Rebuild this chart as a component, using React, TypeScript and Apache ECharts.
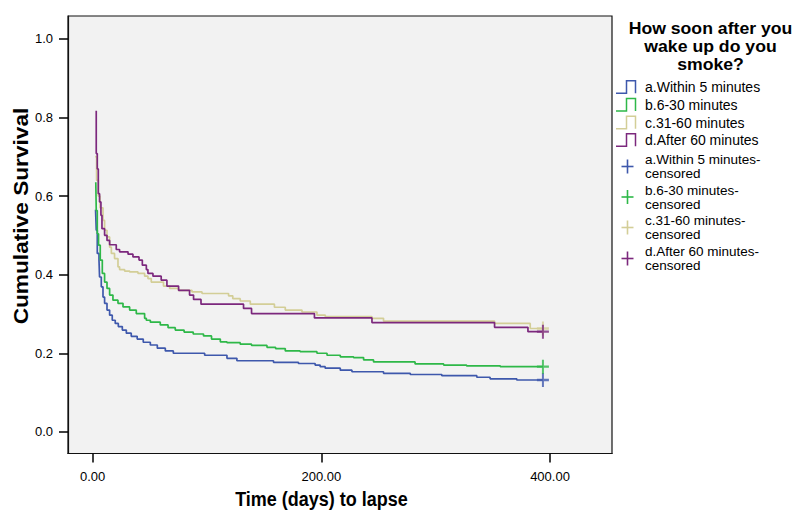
import React, { useEffect, useRef } from "react";
import * as echarts from "echarts";

// Kaplan-Meier step data: [days, cumulative survival]
const withinFive: [number, number][] = [
  [2.6, 0.565], [3.2, 0.513], [4.1, 0.454], [5.6, 0.437], [6.1, 0.394], [7.6, 0.369],
  [9.1, 0.343], [10.5, 0.327], [12.6, 0.31], [14.9, 0.297], [17.2, 0.284], [19.8, 0.276],
  [22.5, 0.268], [26, 0.259], [29.5, 0.251], [33.8, 0.243], [39, 0.236], [44.3, 0.228],
  [50.5, 0.221], [56.6, 0.213], [63.6, 0.206], [70.6, 0.2], [98, 0.195], [117.5, 0.187],
  [126.2, 0.181], [158.2, 0.177], [180, 0.174], [194.6, 0.17], [199, 0.166], [203.4, 0.162],
  [216.6, 0.157], [226.8, 0.153], [254.4, 0.149], [277.8, 0.146], [305.4, 0.143],
  [336, 0.139], [347.6, 0.135], [370.9, 0.132], [393.8, 0.132],
];
const sixToThirty: [number, number][] = [
  [2.8, 0.635], [3.2, 0.563], [4.1, 0.504], [5.2, 0.475], [6.7, 0.437], [8.5, 0.403],
  [10.5, 0.381], [12.6, 0.365], [14.9, 0.348], [17.8, 0.335], [22.2, 0.327], [26.6, 0.318],
  [32.4, 0.31], [38.2, 0.301], [45.5, 0.289], [47, 0.284], [50.5, 0.279], [59.2, 0.272],
  [66, 0.265], [72.3, 0.259], [80, 0.254], [88, 0.249], [97, 0.244], [104, 0.236],
  [111.7, 0.229], [117.5, 0.227], [129.1, 0.223], [139, 0.22], [152.5, 0.215], [160, 0.212],
  [168.5, 0.206], [181.5, 0.204], [196.2, 0.2], [205, 0.195], [216.6, 0.191], [228.2, 0.189],
  [237, 0.183], [245.7, 0.178], [282, 0.173], [307, 0.17], [327, 0.168], [356.5, 0.166],
  [393.8, 0.166],
];
const thirtyOneToSixty: [number, number][] = [
  [2.2, 0.7], [3.5, 0.64], [5, 0.6], [6.5, 0.57], [9.1, 0.538], [10.5, 0.513], [12.6, 0.496],
  [14.9, 0.47], [16.4, 0.454], [19.2, 0.441], [22.2, 0.42], [23.6, 0.413], [28, 0.409],
  [32.4, 0.407], [39.7, 0.403], [45.5, 0.396], [48.4, 0.39], [51.3, 0.381], [62, 0.371],
  [67.4, 0.365], [75.2, 0.36], [86.9, 0.356], [95.7, 0.352], [118.9, 0.346], [122.6, 0.339],
  [129.1, 0.333], [137.9, 0.325], [159, 0.317], [168.5, 0.31], [183.1, 0.305], [196.2, 0.297],
  [203.5, 0.293], [244.3, 0.289], [254.4, 0.282], [351.5, 0.276], [382.7, 0.263], [393.8, 0.263],
];
const afterSixty: [number, number][] = [
  [3.2, 0.817], [3.2, 0.708], [4.1, 0.669], [5, 0.606], [6.1, 0.585], [7.3, 0.551], [8.2, 0.517],
  [10.5, 0.5], [12.6, 0.487], [14.9, 0.476], [20.7, 0.464], [23.6, 0.458], [31, 0.452],
  [35.3, 0.445], [40.6, 0.437], [43.5, 0.424], [47, 0.413], [48.4, 0.403], [52.8, 0.396],
  [60, 0.386], [65, 0.371], [75.2, 0.36], [84.8, 0.348], [88.3, 0.337], [94.8, 0.325],
  [132, 0.314], [139, 0.301], [194, 0.29], [244.3, 0.278], [351.5, 0.266], [380.7, 0.255],
  [393.8, 0.255],
];

const censoredWithinFive: [number, number][] = [[393.8, 0.132]];
const censoredSixToThirty: [number, number][] = [[393.8, 0.166]];
const censoredThirtyOneToSixty: [number, number][] = [[393.8, 0.263]];
const censoredAfterSixty: [number, number][] = [[393.8, 0.255]];

const groupNames = ["a.Within 5 minutes", "b.6-30 minutes", "c.31-60 minutes", "d.After 60 minutes"];
const groupColors = ["#3E58AC", "#2EB848", "#D3CE97", "#7C287D"];
const xTicks = [0, 200, 400];
const yTicks = [0, 0.2, 0.4, 0.6, 0.8, 1.0];
const legendTitle = ["How soon after you", "wake up do you", "smoke?"];

const FONT = "Liberation Sans, Arial, sans-serif";
const PLUS = "path://M5,0 h2 v5 h5 v2 h-5 v5 h-2 v-5 h-5 v-2 h5 z";

export default function App() {
  const ref = useRef<HTMLDivElement>(null);
  useEffect(() => {
    if (!ref.current) return;
    const chart = echarts.init(ref.current, null, { renderer: "svg" });
    const curves = [withinFive, sixToThirty, thirtyOneToSixty, afterSixty];
    const censored = [censoredWithinFive, censoredSixToThirty, censoredThirtyOneToSixty, censoredAfterSixty];

    const series: any[] = [];
    curves.forEach((d, i) => {
      series.push({
        type: "line",
        name: groupNames[i],
        data: d,
        step: "end",
        symbol: "none",
        lineStyle: { color: groupColors[i], width: 1.7 },
        z: 2 + i,
      });
    });
    censored.forEach((d, i) => {
      series.push({
        type: "scatter",
        name: groupNames[i] + "-censored",
        data: d,
        symbol: PLUS,
        symbolSize: [12, 14],
        itemStyle: { color: groupColors[i] },
        z: 6 + i,
      });
    });

    const graphic: any[] = [];
    graphic.push({
      type: "text",
      x: 21,
      y: 216,
      rotation: Math.PI / 2,
      scaleX: 1.08,
      style: {
        text: "Cumulative Survival",
        font: `bold 21px ${FONT}`,
        fill: "#000",
        textAlign: "center",
        textVerticalAlign: "middle",
      },
    });
    graphic.push({
      type: "text",
      x: 321.5,
      y: 499,
      scaleY: 1.1,
      style: {
        text: "Time (days) to lapse",
        font: `bold 18px ${FONT}`,
        fill: "#000",
        textAlign: "center",
        textVerticalAlign: "middle",
      },
    });
    legendTitle.forEach((t, i) => {
      graphic.push({
        type: "text",
        x: 710.5,
        y: 29 + i * 18,
        scaleX: 1.07,
        style: {
          text: t,
          font: `bold 16.5px ${FONT}`,
          fill: "#000",
          textAlign: "center",
          textVerticalAlign: "middle",
        },
      });
    });
    const rowY = [87.3, 105, 122.7, 140.2];
    groupNames.forEach((n, i) => {
      const yc = rowY[i];
      graphic.push({
        type: "polyline",
        shape: {
          points: [
            [616, yc + 6],
            [626.5, yc + 6],
            [626.5, yc - 6.5],
            [635.5, yc - 6.5],
            [635.5, yc + 6],
          ],
        },
        style: { stroke: groupColors[i], lineWidth: 1.5, fill: null },
      });
      graphic.push({
        type: "text",
        x: 645,
        y: yc,
        style: { text: n, font: `14px ${FONT}`, fill: "#000", textVerticalAlign: "middle" },
      });
    });
    const cenTop = [159.5, 190, 220.5, 251.5];
    groupNames.forEach((n, i) => {
      const yt = cenTop[i];
      const yc = yt + 7;
      graphic.push({
        type: "line",
        shape: { x1: 621.5, y1: yc, x2: 633.5, y2: yc },
        style: { stroke: groupColors[i], lineWidth: 1.6 },
      });
      graphic.push({
        type: "line",
        shape: { x1: 627.5, y1: yc - 7, x2: 627.5, y2: yc + 7 },
        style: { stroke: groupColors[i], lineWidth: 1.6 },
      });
      graphic.push({
        type: "text",
        x: 645,
        y: yt,
        style: { text: n + "-", font: `13.5px ${FONT}`, fill: "#000", textVerticalAlign: "middle" },
      });
      graphic.push({
        type: "text",
        x: 645,
        y: yt + 14,
        style: { text: "censored", font: `13.5px ${FONT}`, fill: "#000", textVerticalAlign: "middle" },
      });
    });

    chart.setOption({
      animation: false,
      backgroundColor: "#ffffff",
      grid: {
        left: 68,
        right: 188,
        top: 16,
        bottom: 71.5,
        show: true,
        backgroundColor: "#F2F2F2",
        borderColor: "#111",
        borderWidth: 1.2,
        containLabel: false,
      },
      xAxis: {
        type: "value",
        min: -21.5,
        max: 454.2,
        axisLine: { show: true, onZero: false, lineStyle: { color: "#111", width: 1.2 } },
        axisTick: {
          show: true,
          customValues: xTicks,
          length: 9,
          inside: false,
          lineStyle: { color: "#000", width: 1.5 },
        },
        axisLabel: {
          customValues: xTicks,
          formatter: (v: number) => v.toFixed(2),
          fontFamily: FONT,
          fontSize: 13,
          color: "#000",
          margin: 16,
        },
        splitLine: { show: false },
      },
      yAxis: {
        type: "value",
        min: -0.055,
        max: 1.058,
        axisLine: { show: true, onZero: false, lineStyle: { color: "#111", width: 1.2 } },
        axisTick: {
          show: true,
          customValues: yTicks,
          length: 9,
          inside: false,
          lineStyle: { color: "#000", width: 1.5 },
        },
        axisLabel: {
          customValues: yTicks,
          formatter: (v: number) => v.toFixed(1),
          fontFamily: FONT,
          fontSize: 13,
          color: "#000",
          margin: 15,
        },
        splitLine: { show: false },
      },
      graphic,
      series,
    });
    return () => chart.dispose();
  }, []);
  return (
    <div
      ref={ref}
      style={{ position: "fixed", left: 0, top: 0, width: 800, height: 525, background: "#fff" }}
    />
  );
}
